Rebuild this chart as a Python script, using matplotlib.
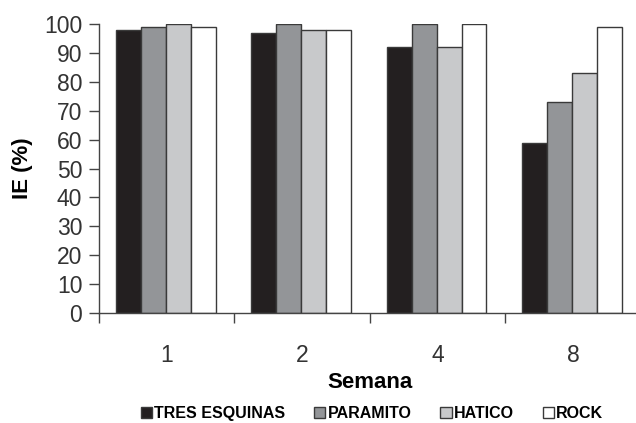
import numpy as np
import matplotlib.pyplot as plt

plt.rcParams['font.family'] = ['Liberation Sans', 'DejaVu Sans']

semanas = ["1", "2", "4", "8"]
series = ["TRES ESQUINAS", "PARAMITO", "HATICO", "ROCK"]
tres_esquinas = [98, 97, 92, 59]
paramito = [99, 100, 100, 73]
hatico = [100, 98, 92, 83]
rock = [99, 98, 100, 99]
colores = ["#231f20", "#939598", "#c8c9cb", "#ffffff"]

fig = plt.figure(figsize=(6.36, 4.23), dpi=100)
ax = fig.add_axes([0.1557, 0.26, 0.852, 0.683])

x = np.arange(len(semanas)) + 0.5
width = 0.184
valores = [tres_esquinas, paramito, hatico, rock]
for i, (nombre, vals, c) in enumerate(zip(series, valores, colores)):
    ax.bar(x + (i - 1.5) * width - 0.008, vals, width, color=c, edgecolor="#3a3a3a",
           linewidth=1.0, label=nombre)

ax.set_xlim(0, 4)
ax.set_ylim(0, 100)
ax.set_yticks(range(0, 101, 10))
ax.set_xticks(range(0, 5))
ax.set_xticklabels([])
ax.set_xticks(x, minor=True)
ax.set_xticklabels(semanas, minor=True)
ax.tick_params(axis="x", which="major", length=7, width=1, color="#444444", direction="out")
ax.tick_params(axis="x", which="minor", length=0, pad=22, labelsize=16.5, labelcolor="#333333")
ax.tick_params(axis="y", length=7, width=1, color="#444444", labelsize=16.5,
               labelcolor="#333333", pad=5)

for s in ["top", "right"]:
    ax.spines[s].set_visible(False)
for s in ["left", "bottom"]:
    ax.spines[s].set_color("#444444")
    ax.spines[s].set_linewidth(1.0)

ax.set_ylabel("IE (%)", fontsize=16, fontweight="bold", labelpad=8)
ax.set_xlabel("Semana", fontsize=16, fontweight="bold", labelpad=4)

fig.legend(loc="lower center", bbox_to_anchor=(0.585, -0.03), ncol=4, frameon=False,
           prop={"size": 11.5, "weight": "bold"}, handlelength=0.7, handleheight=0.7,
           handletextpad=0.15, columnspacing=1.8)

fig.savefig("out.png", dpi=100)
